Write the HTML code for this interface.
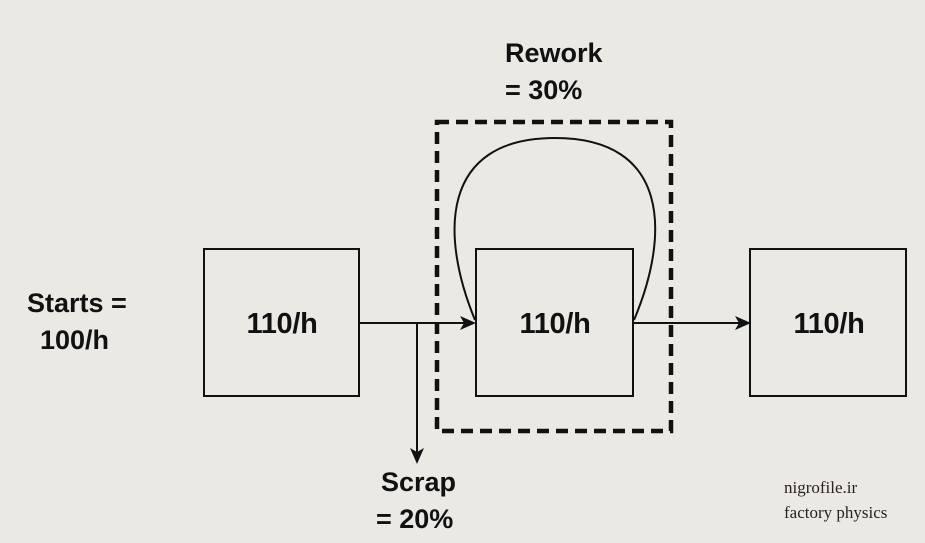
<!DOCTYPE html>
<html><head><style>
body{margin:0;background:#ebe9e4;}
svg{display:block}
text{font-family:"Liberation Sans",sans-serif;font-size:27px;font-weight:bold;fill:#111;}
.b{font-size:29px;letter-spacing:-0.3px}
.s{font-family:"Liberation Serif",serif;font-size:17px;font-weight:normal;fill:#2a2020;letter-spacing:0}
</style></head><body>
<svg width="925" height="543" viewBox="0 0 925 543">
<rect width="925" height="543" fill="#ebe9e4"/>
<g fill="none" stroke="#111" stroke-width="2">
<rect x="204" y="249" width="155" height="147"/>
<rect x="476" y="249" width="157" height="147"/>
<rect x="750" y="249" width="156" height="147"/>
<rect x="437" y="122" width="234" height="309" stroke-width="4.5" stroke-dasharray="12,7"/>
<line x1="359" y1="323" x2="466" y2="323"/>
<line x1="633" y1="323" x2="740" y2="323"/>
<line x1="417" y1="323" x2="417" y2="452"/>
<path d="M475,320 C440,235 440,138 555,138 C670,138 670,235 634,320"/>
</g>
<g fill="#111">
<polygon points="476,323 460,316 464,323 460,330"/>
<polygon points="751,323 735,316 739,323 735,330"/>
<polygon points="417,464 410,448 417,452 424,448"/>
</g>
<text x="505" y="62">Rework</text>
<text x="505" y="99">= 30%</text>
<text x="27" y="312">Starts =</text>
<text x="40" y="349">100/h</text>
<text x="381" y="491">Scrap</text>
<text x="376" y="528">= 20%</text>
<text class="b" x="282" y="333" text-anchor="middle">110/h</text>
<text class="b" x="555" y="333" text-anchor="middle">110/h</text>
<text class="b" x="829" y="333" text-anchor="middle">110/h</text>
<text class="s" x="784" y="493">nigrofile.ir</text>
<text class="s" x="784" y="518">factory physics</text>
</svg>
</body></html>
